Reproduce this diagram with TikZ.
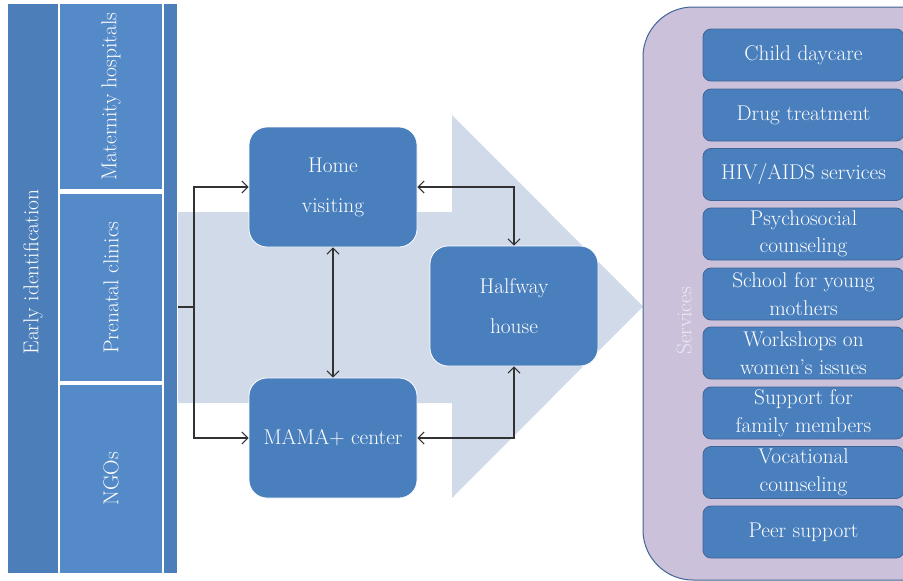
\documentclass[tikz,border=0pt]{standalone}
\usetikzlibrary{arrows.meta}
\definecolor{barblue}{RGB}{76,126,185}
\definecolor{boxblue}{RGB}{85,138,200}
\definecolor{lightarrow}{RGB}{208,218,233}
\definecolor{midblue}{RGB}{74,127,190}
\definecolor{lavender}{RGB}{204,193,218}
\definecolor{servborder}{RGB}{64,100,150}
\definecolor{servtext}{RGB}{236,233,243}
\definecolor{conn}{RGB}{50,50,50}
\tikzset{
  txt/.style={font=\fontsize{21.5}{27}\selectfont, text=white},
  leftbar/.style={draw=white, line width=1.5pt, fill=barblue, inner sep=0pt},
  srcbox/.style={draw=white, line width=1.5pt, fill=boxblue, inner sep=0pt},
  centerbox/.style={draw=white, line width=0.8pt, fill=midblue, rounded corners=18pt,
     minimum width=168pt, minimum height=120pt, inner sep=0pt, align=center,
     font=\fontsize{21.3}{40}\selectfont, text=white},
  servbox/.style={draw=servborder, line width=0.8pt, fill=midblue, rounded corners=8pt,
     minimum width=201pt, minimum height=52pt, inner sep=0pt, align=center,
     font=\fontsize{21.3}{27.5}\selectfont, text=white},
  conline/.style={draw=conn, line width=1.1pt},
  biarrow/.style={conline, {Straight Barb[length=6pt,width=12pt]}-{Straight Barb[length=6pt,width=12pt]}},
  onearrow/.style={conline, -{Straight Barb[length=6pt,width=12pt]}}
}
\begin{document}
\begin{tikzpicture}[x=1pt, y=-1pt]
\clip (0,0) rectangle (903,581);
\fill[white] (0,0) rectangle (903,581);

% light background arrow
\fill[lightarrow] (177,212) -- (452,212) -- (452,115) -- (643,306.5) -- (452,498) -- (452,403) -- (177,403) -- cycle;

% left column
\node[leftbar, minimum width=51pt, minimum height=570pt] (early) at (33,288.5) {};
\node[txt, rotate=90] (earlytxt) at (33,272) {Early identification};
\node[srcbox, minimum width=103pt, minimum height=186pt] (mat) at (111,96.5) {};
\node[txt, rotate=90] at (mat.center) {Maternity hospitals};
\node[srcbox, minimum width=103pt, minimum height=188pt] (pre) at (111,287.5) {};
\node[txt, rotate=90] at (pre.center) {Prenatal clinics};
\node[srcbox, minimum width=103pt, minimum height=189pt] (ngo) at (111,479) {};
\node[txt, rotate=90] at (ngo.center) {NGOs};
\node[leftbar, minimum width=14pt, minimum height=570pt] (bar) at (170.5,288.5) {};

% center boxes
\node[centerbox] (home) at (333,187) {Home\\visiting};
\node[centerbox] (mama) at (333,438) {MAMA+ center};
\node[centerbox] (half) at (514,306) {Halfway\\house};

% connectors
\coordinate (j) at (194,307);
\draw[conline] (bar.east |- j) -- (j);
\draw[onearrow] (j) |- (home.west);
\draw[onearrow] (j) |- (mama.west);
\draw[biarrow] (home.south) -- (mama.north);
\draw[biarrow] (home.east) -| (half.north);
\draw[biarrow] (mama.east) -| (half.south);

% services container
\draw[draw=servborder, line width=1pt, fill=lavender, rounded corners=50pt] (643,7) rectangle (980,580);
\node[font=\fontsize{21.3}{27}\selectfont, text=servtext, rotate=90] (servlbl) at (684,321) {Services};

\node[servbox] (s1) at (803.5,55) {Child daycare};
\node[servbox] (s2) at (803.5,115) {Drug treatment};
\node[servbox] (s3) at (803.5,174.5) {HIV/AIDS services};
\node[servbox] (s4) at (803.5,234) {Psychosocial\\counseling};
\node[servbox] (s5) at (803.5,294) {School for young\\mothers};
\node[servbox] (s6) at (803.5,353) {Workshops on\\women’s issues};
\node[servbox] (s7) at (803.5,413) {Support for\\family members};
\node[servbox] (s8) at (803.5,472.5) {Vocational\\counseling};
\node[servbox] (s9) at (803.5,532) {Peer support};
\end{tikzpicture}
\end{document}
